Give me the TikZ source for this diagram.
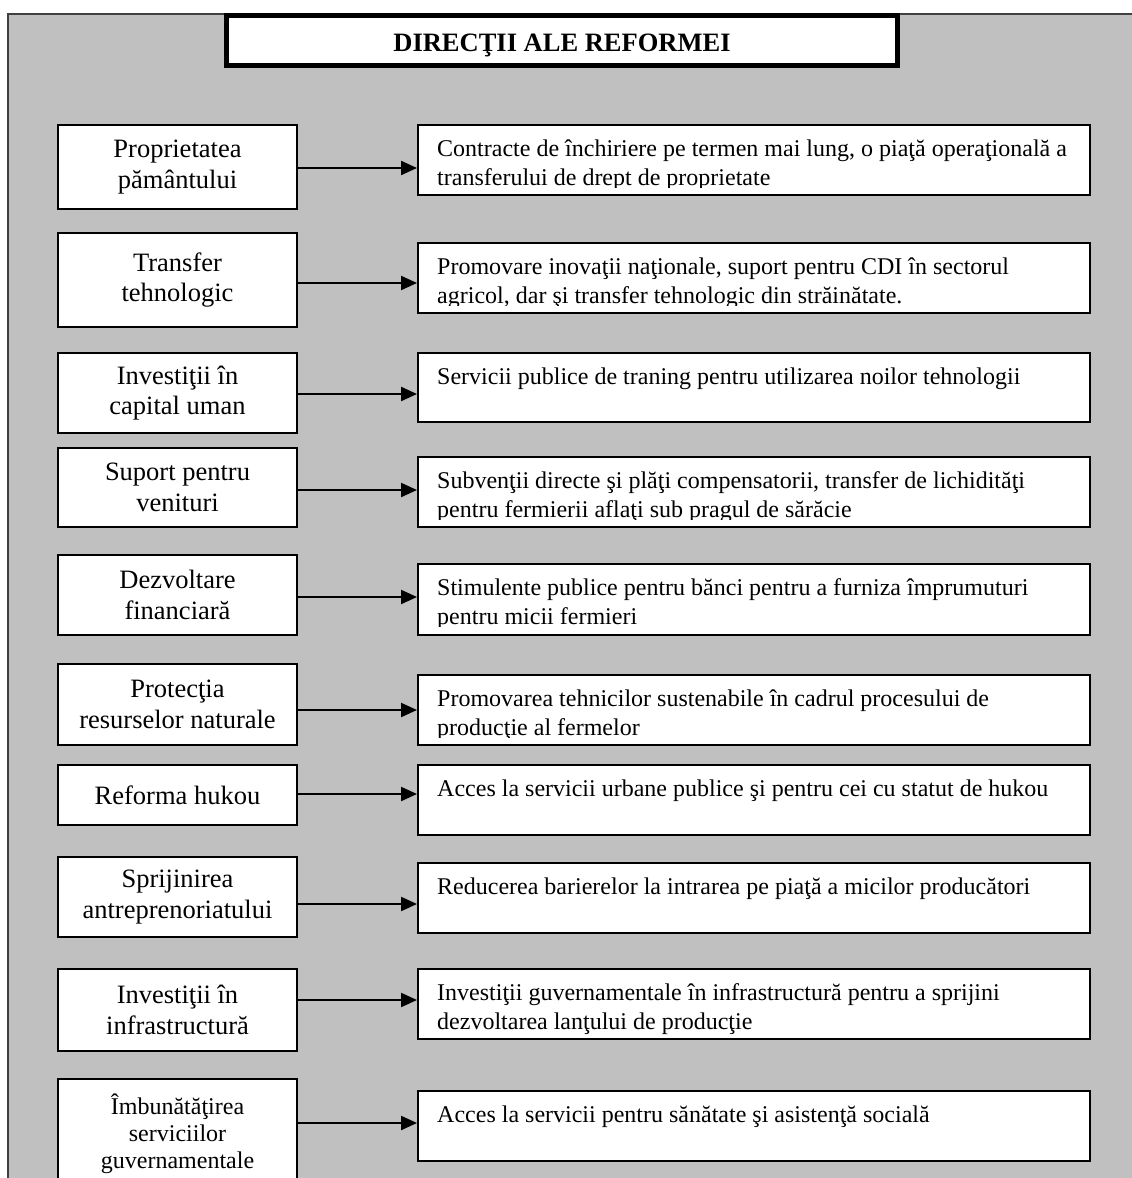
\documentclass[tikz,border=0pt]{standalone}
\usepackage{fontspec}
\setmainfont{Liberation Serif}
\usetikzlibrary{arrows.meta}
\definecolor{bggray}{HTML}{C0C0C0}
\definecolor{framegray}{HTML}{404040}
\newcommand\LB[4]{\node[lbox,minimum height={(#3-#2-2)*1pt}] (#1) at (177.5,{(#2+#3)/2}) {#4};}
\newcommand\RB[3]{\node[rbox,minimum height={(#3-#2-2)*1pt}] (#1) at (754,{(#2+#3)/2}) {};}
% one line of text, clipped to the box
\newcommand\RT[2]{\begin{scope}
  \clip ([shift={(1,-1)}]#1.south west) rectangle ([shift={(-1,1)}]#1.north east);
  \node[rtext] (#1a) at ([shift={(20,32)}]#1.north west) {#2};
  \end{scope}}
% two lines of text, clipped at depth #4 below the top of the box
\newcommand\RTT[4]{\begin{scope}
  \clip ([shift={(1,1)}]#1.north west) rectangle ([shift={(-1,#4)}]#1.north east);
  \node[rtext] (#1a) at ([shift={(20,32)}]#1.north west) {#2};
  \node[rtext] (#1b) at ([shift={(20,61)}]#1.north west) {#3};
  \end{scope}}
\newcommand\AR[2]{\coordinate (y#1) at (0,#2);
  \draw[arr] (l#1.east |- y#1) -- (r#1.west |- y#1);}
\begin{document}
\begin{tikzpicture}[x=1pt,y=-1pt,
  box/.style={draw=black,line width=2pt,fill=white,inner sep=0pt},
  lbox/.style={box,align=center,font=\fontsize{26.5}{30.5}\selectfont,minimum width=239pt},
  rbox/.style={box,minimum width=672pt},
  rtext/.style={anchor=base west,inner sep=0pt,font=\fontsize{24}{29}\selectfont},
  arr/.style={line width=2.2pt,-{Triangle[length=16pt,width=14pt]}}]
\useasboundingbox (0,0) rectangle (1132,1178);
\fill[bggray] (8,14) rectangle (1140,1190);
\draw[framegray,line width=1.5pt] (1140,14) -- (8,14) -- (8,1190);
\node[draw=black,line width=5pt,fill=white,minimum width=671pt,minimum height=50pt,inner sep=0pt,
  text height=22pt,text depth=0pt,
  font=\bfseries\fontsize{26.5}{30}\selectfont] (title) at (562,40.5) {DIRECŢII ALE REFORMEI};
% left boxes
\LB{l1}{124}{210}{Proprietatea\\pământului}
\LB{l2}{232}{328}{Transfer\\tehnologic}
\LB{l3}{352}{434}{Investiţii în\\capital uman}
\LB{l4}{447}{528}{Suport pentru\\venituri}
\LB{l5}{554}{636}{Dezvoltare\\financiară}
\LB{l6}{663}{746}{Protecţia\\resurselor naturale}
\LB{l7}{764}{826}{Reforma hukou}
\LB{l8}{856}{938}{Sprijinirea\\antreprenoriatului}
\LB{l9}{968}{1052}{Investiţii în\\infrastructură}
\node[box,align=center,minimum width=239pt,minimum height=110pt,
  font=\fontsize{24}{27}\selectfont] (l10) at (177.5,1134) {Îmbunătăţirea\\serviciilor\\guvernamentale};
% right boxes
\RB{r1}{124}{196}
\RB{r2}{242}{314}
\RB{r3}{352}{423}
\RB{r4}{456}{528}
\RB{r5}{563}{636}
\RB{r6}{674}{746}
\RB{r7}{764}{836}
\RB{r8}{862}{934}
\RB{r9}{968}{1040}
\RB{r10}{1090}{1162}
\RTT{r1}{Contracte de închiriere pe termen mai lung, o piaţă operaţională a}{transferului de drept de proprietate}{63.5}
\RTT{r2}{Promovare inovaţii naţionale, suport pentru CDI în sectorul}{agricol, dar şi transfer tehnologic din străinătate.}{63.5}
\RT{r3}{Servicii publice de traning pentru utilizarea noilor tehnologii}
\RTT{r4}{Subvenţii directe şi plăţi compensatorii, transfer de lichidităţi}{pentru fermierii aflaţi sub pragul de sărăcie}{63.5}
\RTT{r5}{Stimulente publice pentru bănci pentru a furniza împrumuturi}{pentru micii fermieri}{63.5}
\RTT{r6}{Promovarea tehnicilor sustenabile în cadrul procesului de}{producţie al fermelor}{63.5}
\RT{r7}{Acces la servicii urbane publice şi pentru cei cu statut de hukou}
\RT{r8}{Reducerea barierelor la intrarea pe piaţă a micilor producători}
\RTT{r9}{Investiţii guvernamentale în infrastructură pentru a sprijini}{dezvoltarea lanţului de producţie}{71}
\RT{r10}{Acces la servicii pentru sănătate şi asistenţă socială}
% arrows
\AR{1}{168}
\AR{2}{283}
\AR{3}{394}
\AR{4}{490}
\AR{5}{597}
\AR{6}{710}
\AR{7}{794}
\AR{8}{904}
\AR{9}{1000}
\AR{10}{1123}
\end{tikzpicture}
\end{document}
